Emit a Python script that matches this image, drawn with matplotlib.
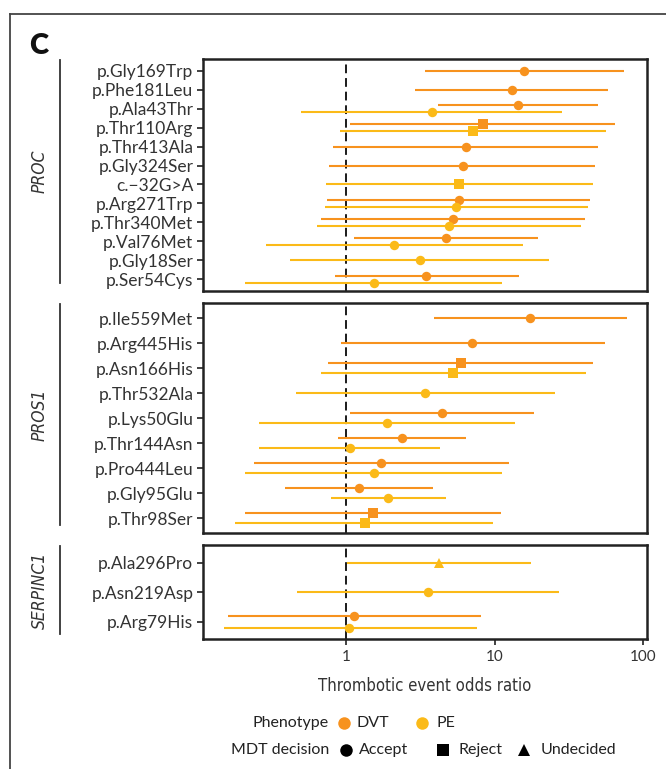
import numpy as np
import matplotlib
matplotlib.use("Agg")
import matplotlib.pyplot as plt
from matplotlib.lines import Line2D

plt.rcParams['font.family'] = ['Lato', 'DejaVu Sans']

# Colours for the phenotypes
DVT_COLOR = "#F7921E"
PE_COLOR = "#FBBA18"
MARKERS = {"Accept": "o", "Reject": "s", "Undecided": "^"}

# PROC
proc_variants = ["p.Gly169Trp", "p.Phe181Leu", "p.Ala43Thr", "p.Thr110Arg", "p.Thr413Ala",
                 "p.Gly324Ser", "c.\u221232G>A", "p.Arg271Trp", "p.Thr340Met", "p.Val76Met",
                 "p.Gly18Ser", "p.Ser54Cys"]
proc_dvt_or = [15.8, 13.0, 14.4, 8.3, 6.4, 6.1, None, 5.74, 5.26, 4.69, None, 3.47]
proc_dvt_lo = [3.42, 2.93, 4.17, 1.06, 0.82, 0.77, None, 0.75, 0.68, 1.13, None, 0.84]
proc_dvt_hi = [73.8, 57.8, 49.8, 64.8, 49.3, 47.5, None, 44.0, 40.4, 19.5, None, 14.5]
proc_dvt_dec = ["Accept", "Accept", "Accept", "Reject", "Accept", "Accept", None, "Accept",
                "Accept", "Accept", None, "Accept"]
proc_pe_or = [None, None, 3.77, 7.13, None, None, 5.74, 5.47, 4.94, 2.09, 3.13, 1.54]
proc_pe_lo = [None, None, 0.50, 0.91, None, None, 0.73, 0.72, 0.64, 0.29, 0.42, 0.21]
proc_pe_hi = [None, None, 28.5, 56.4, None, None, 45.8, 42.4, 38.0, 15.4, 23.3, 11.2]
proc_pe_dec = [None, None, "Accept", "Reject", None, None, "Reject", "Accept", "Accept",
               "Accept", "Accept", "Accept"]

# PROS1
pros1_variants = ["p.Ile559Met", "p.Arg445His", "p.Asn166His", "p.Thr532Ala", "p.Lys50Glu",
                  "p.Thr144Asn", "p.Pro444Leu", "p.Gly95Glu", "p.Thr98Ser"]
pros1_dvt_or = [17.3, 7.09, 5.92, None, 4.43, 2.37, 1.71, 1.23, 1.51]
pros1_dvt_lo = [3.89, 0.92, 0.76, None, 1.07, 0.88, 0.24, 0.39, 0.21]
pros1_dvt_hi = [77.6, 55.7, 45.8, None, 18.4, 6.46, 12.5, 3.85, 11.0]
pros1_dvt_dec = ["Accept", "Accept", "Reject", None, "Accept", "Accept", "Accept", "Accept", "Reject"]
pros1_pe_or = [None, None, 5.26, 3.40, 1.89, 1.06, 1.54, 1.93, 1.34]
pros1_pe_lo = [None, None, 0.68, 0.46, 0.26, 0.26, 0.21, 0.79, 0.18]
pros1_pe_hi = [None, None, 40.9, 25.4, 13.8, 4.30, 11.2, 4.69, 9.68]
pros1_pe_dec = [None, None, "Reject", "Accept", "Accept", "Accept", "Accept", "Accept", "Reject"]

# SERPINC1
serpinc1_variants = ["p.Ala296Pro", "p.Asn219Asp", "p.Arg79His"]
serpinc1_dvt_or = [None, None, 1.13]
serpinc1_dvt_lo = [None, None, 0.16]
serpinc1_dvt_hi = [None, None, 8.15]
serpinc1_dvt_dec = [None, None, "Accept"]
serpinc1_pe_or = [4.21, 3.55, 1.05]
serpinc1_pe_lo = [1.01, 0.47, 0.15]
serpinc1_pe_hi = [17.5, 26.9, 7.59]
serpinc1_pe_dec = ["Undecided", "Accept", "Accept"]

W, H = 666, 769
NARROW = dict(family="DejaVu Sans", stretch="condensed")


def fx(px):
    return px / W


def fy(py):
    return 1 - py / H


def forest_panel(fig, rect, variants, dvt, pe, show_x=False):
    ax = fig.add_axes(rect)
    n = len(variants)
    for i in range(n):
        has_dvt = dvt[0][i] is not None
        has_pe = pe[0][i] is not None
        both = has_dvt and has_pe
        for vals, color, has, off in ((dvt, DVT_COLOR, has_dvt, -0.2), (pe, PE_COLOR, has_pe, 0.2)):
            if not has:
                continue
            y = i + (off if both else 0)
            ax.plot([vals[1][i], vals[2][i]], [y, y], color=color, lw=1.5, solid_capstyle="butt", zorder=2)
            ax.plot(vals[0][i], y, marker=MARKERS[vals[3][i]], color=color, ms=6.8,
                    markeredgewidth=0, zorder=3)
    ax.axvline(1, color="#1a1a1a", lw=1.4, ls=(0, (4.5, 2.5)), zorder=1)
    ax.set_xscale("log")
    ax.set_xlim(0.109, 106)
    ax.set_ylim(n - 0.4, -0.6)
    ax.set_yticks(range(n))
    ax.set_yticklabels(variants, fontsize=12.5, color="#333333")
    ax.tick_params(axis="y", length=4, width=1.3, color="#333333", pad=3)
    ax.minorticks_off()
    for s in ax.spines.values():
        s.set_linewidth(1.8)
        s.set_color("#222222")
    if show_x:
        ax.set_xticks([1, 10, 100])
        ax.set_xticklabels(["1", "10", "100"], fontsize=11, color="#333333")
        ax.tick_params(axis="x", length=4, width=1.3, color="#333333", pad=4)
        ax.set_xlabel("Thrombotic event odds ratio", fontsize=12, color="#333333",
                      labelpad=9, **NARROW)
    else:
        ax.set_xticks([])
    return ax


fig = plt.figure(figsize=(W / 100, H / 100), dpi=100)

left, right = fx(203), fx(647)
panels = [
    ("PROC", proc_variants,
     (proc_dvt_or, proc_dvt_lo, proc_dvt_hi, proc_dvt_dec),
     (proc_pe_or, proc_pe_lo, proc_pe_hi, proc_pe_dec), 59.3, 290.7, 60, 283),
    ("PROS1", pros1_variants,
     (pros1_dvt_or, pros1_dvt_lo, pros1_dvt_hi, pros1_dvt_dec),
     (pros1_pe_or, pros1_pe_lo, pros1_pe_hi, pros1_pe_dec), 303.3, 533.3, 304, 525),
    ("SERPINC1", serpinc1_variants,
     (serpinc1_dvt_or, serpinc1_dvt_lo, serpinc1_dvt_hi, serpinc1_dvt_dec),
     (serpinc1_pe_or, serpinc1_pe_lo, serpinc1_pe_hi, serpinc1_pe_dec), 545, 639.3, 546, 634),
]
for k, (gene, variants, dvt, pe, top, bot, l0, l1) in enumerate(panels):
    forest_panel(fig, [left, fy(bot), right - left, (bot - top) / H], variants, dvt, pe,
                 show_x=(k == len(panels) - 1))
    # strip: gene name + vertical bar
    fig.add_artist(Line2D([fx(60), fx(60)], [fy(l0), fy(l1)], transform=fig.transFigure,
                          color="#333333", lw=1.3))
    fig.text(fx(40), fy((l0 + l1) / 2), gene, rotation=90, ha="center", va="center",
             fontsize=12.5, style="italic", color="#333333", **NARROW)

# frame corner
fig.add_artist(Line2D([fx(10), 1], [fy(14), fy(14)], transform=fig.transFigure, color="#444444", lw=1.3))
fig.add_artist(Line2D([fx(10), fx(10)], [fy(14), 0], transform=fig.transFigure, color="#444444", lw=1.3))

fig.text(fx(29), fy(46), "C", fontsize=21, fontweight="heavy", ha="left", va="center", color="#111111")

# legend
leg_fs = 11.5
fig.text(fx(329), fy(723), "Phenotype", ha="right", va="center", fontsize=leg_fs, color="#222222")
for xk, xt, col, lab in ((344, 357, DVT_COLOR, "DVT"), (422, 436, PE_COLOR, "PE")):
    fig.add_artist(Line2D([fx(xk)], [fy(723)], transform=fig.transFigure, marker="o", ms=9,
                          color=col, markeredgewidth=0))
    fig.text(fx(xt), fy(723), lab, ha="left", va="center", fontsize=leg_fs, color="#222222")
fig.text(fx(329), fy(750), "MDT decision", ha="right", va="center", fontsize=leg_fs, color="#222222")
for xk, xt, mk, lab in ((346, 359, "o", "Accept"), (443, 458, "s", "Reject"), (524, 541, "^", "Undecided")):
    fig.add_artist(Line2D([fx(xk)], [fy(750)], transform=fig.transFigure, marker=mk, ms=9,
                          color="black", markeredgewidth=0))
    fig.text(fx(xt), fy(750), lab, ha="left", va="center", fontsize=leg_fs, color="#222222")

fig.savefig("out.png", dpi=100)
